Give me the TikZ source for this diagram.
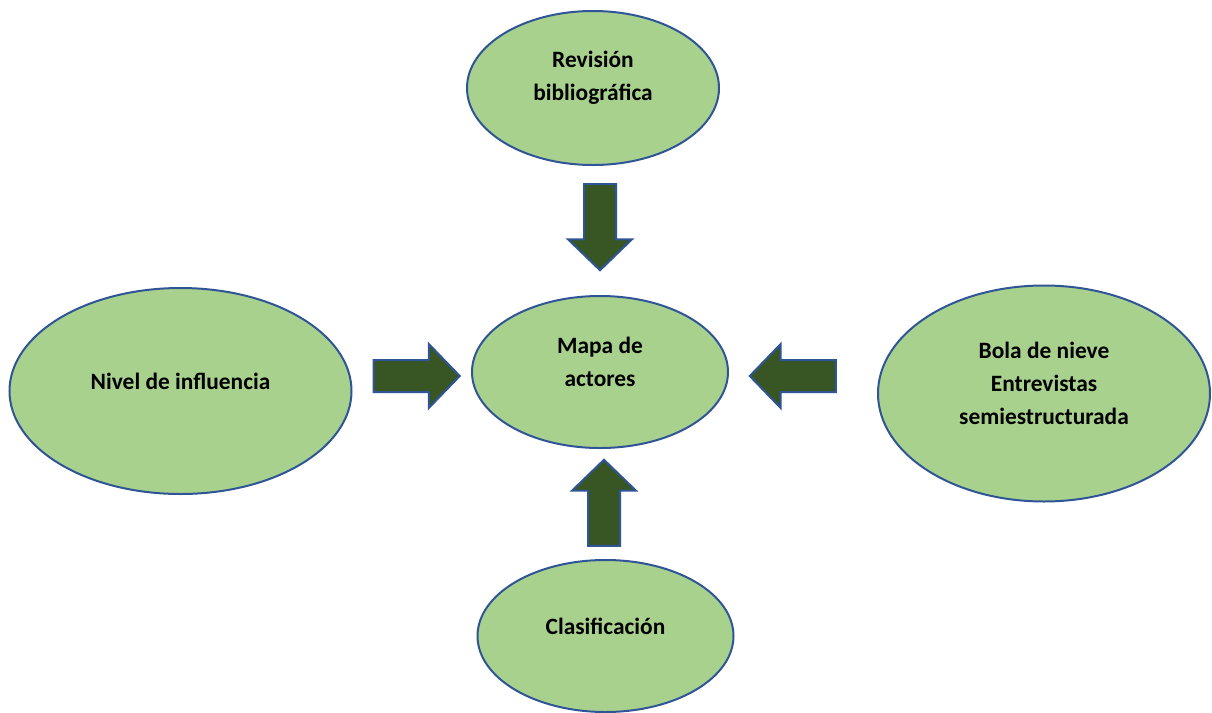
\documentclass[tikz,border=0pt]{standalone}
\usepackage{fontspec}
\setmainfont{Carlito}
\usetikzlibrary{shapes.geometric,shapes.arrows}
\definecolor{bubblefill}{HTML}{A9D18E}
\definecolor{bubbleline}{HTML}{2F5597}
\definecolor{arrowfill}{HTML}{375623}

\begin{document}
\begin{tikzpicture}[x=0.5pt,y=-0.5pt,
  bubble/.style={ellipse, draw=bubbleline, fill=bubblefill, line width=1pt, inner sep=0pt},
  bubbletext/.style={align=center, font=\fontsize{11.7}{16.5}\selectfont\bfseries, yshift=5pt},
  bigarrow/.style={single arrow, draw=bubbleline, fill=arrowfill, line width=1pt, inner xsep=0pt, inner ysep=7.5pt,
    minimum width=31pt, minimum height=43pt, single arrow head extend=8pt, single arrow tip angle=92}]
 \useasboundingbox (0,0) rectangle (1212,713);
 \node[bubble, minimum width=126pt, minimum height=77pt,
   label={[bubbletext]center:{Revisión\\bibliográfica}}] (revision) at (593,88) {};
 \node[bubble, minimum width=128pt, minimum height=76pt,
   label={[bubbletext]center:{Mapa de\\actores}}] (mapa) at (600,372) {};
 \node[bubble, minimum width=171pt, minimum height=103pt,
   label={[bubbletext]center:{Nivel de influencia}}] (nivel) at (180.5,391) {};
 \node[bubble, minimum width=166pt, minimum height=108pt,
   label={[bubbletext]center:{Bola de nieve\\Entrevistas\\semiestructurada}}] (bola) at (1044,393.5) {};
 \node[bubble, minimum width=128pt, minimum height=76pt,
   label={[bubbletext]center:{Clasificación}}] (clasif) at (605.5,636) {};
 \node[bigarrow, rotate=-90] (revtomapa) at (600,219.5) {};
 \node[bigarrow, rotate=90] (clastomapa) at (604,510.5) {};
 \node[bigarrow] (niveltomapa) at (409,376) {};
 \node[bigarrow, rotate=180] (bolatomapa) at (800.5,376) {};
\end{tikzpicture}
\end{document}
